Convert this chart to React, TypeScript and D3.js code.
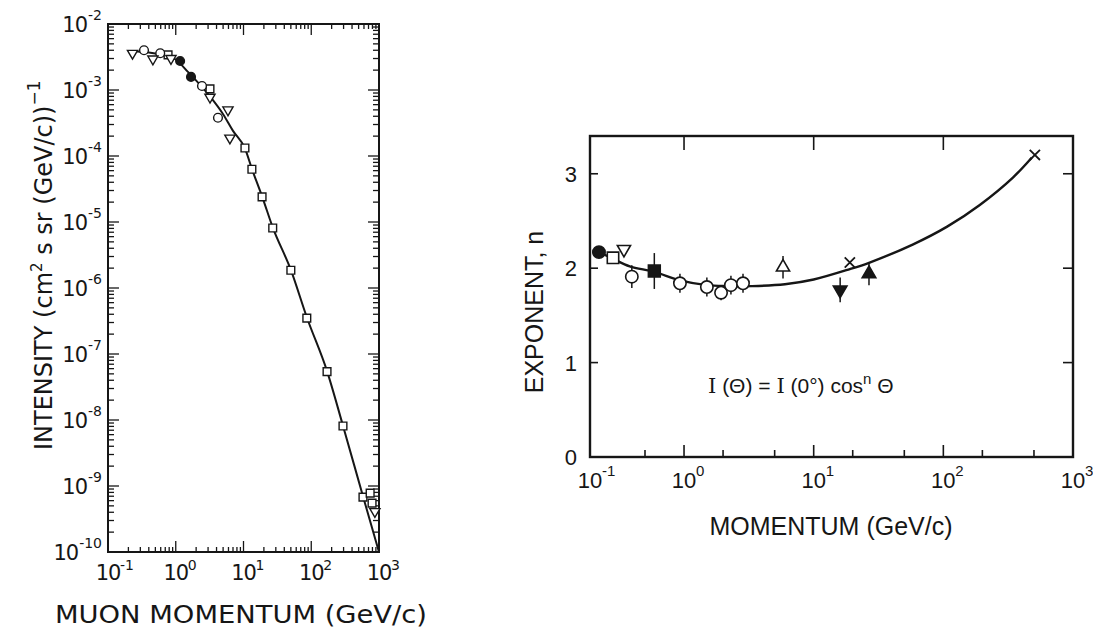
import React, { useEffect, useRef } from 'react';
import * as d3 from 'd3';

const W = 1093;
const H = 633;

// ---- left panel: vertical muon intensity vs momentum ----
const leftXTicks = [0.1, 1, 10, 100, 1000];
const leftXExp = ['-1', '0', '1', '2', '3'];
const leftYTicks = [1e-2, 1e-3, 1e-4, 1e-5, 1e-6, 1e-7, 1e-8, 1e-9, 1e-10];
const leftYExp = ['-2', '-3', '-4', '-5', '-6', '-7', '-8', '-9', '-10'];

// [momentum GeV/c, intensity]
const intOpenDownTri = [[0.23, 3.6e-3], [0.46, 2.95e-3], [0.85, 3.0e-3], [3.2, 7.8e-4], [5.9, 5.0e-4], [6.3, 1.87e-4], [870, 4.1e-10]];
const intOpenCircle = [[0.34, 4.0e-3], [0.59, 3.6e-3], [2.44, 1.15e-3], [4.2, 3.8e-4]];
const intOpenSquare = [[0.77, 3.4e-3], [3.2, 1.04e-3], [10.5, 1.32e-4], [13.3, 6.3e-5], [18.8, 2.4e-5], [27, 8.1e-6], [50, 1.86e-6], [86, 3.5e-7], [171, 5.4e-8], [294, 8.1e-9], [580, 6.8e-10], [740, 7.8e-10], [790, 5.5e-10]];
const intFilledCircle = [[1.16, 2.75e-3], [1.68, 1.58e-3]];
const intCurve = [[0.2, 3.9e-3], [0.4, 3.7e-3], [0.7, 3.3e-3], [1.0, 2.9e-3], [1.5, 1.9e-3], [2.2, 1.25e-3], [3.2, 8.0e-4], [5, 4.3e-4], [7, 2.4e-4], [10.5, 1.3e-4], [13.3, 6.4e-5], [18.8, 2.45e-5], [27, 8.3e-6], [50, 1.88e-6], [86, 3.6e-7], [171, 5.5e-8], [294, 8.2e-9], [580, 7.0e-10], [1000, 1.0e-10]];

// ---- right panel: exponent n of the cos^n zenith distribution ----
const rightXTicks = [0.1, 1, 10, 100, 1000];
const rightXExp = ['-1', '0', '1', '2', '3'];
const rightMinorX = [0.5, 2, 5, 20, 50, 200, 500];
const rightYTicks = [0, 1, 2, 3];

// [momentum, n, error]
const nFilledCircle = [[0.13, 2.17, 0]];
const nOpenSquare = [[0.196, 2.11, 0]];
const nOpenDownTri = [[0.27, 2.2, 0]];
const nOpenCircle = [[0.34, 1.91, 0.12], [0.93, 1.84, 0.1], [1.5, 1.8, 0.1], [1.93, 1.74, 0.08], [2.3, 1.82, 0.1], [2.85, 1.84, 0.1]];
const nFilledSquare = [[0.59, 1.97, 0.19]];
const nOpenUpTri = [[5.8, 2.01, 0.12]];
const nFilledDownTri = [[16, 1.77, 0.13]];
const nFilledUpTri = [[26.7, 1.94, 0.12]];
const nCross = [[19, 2.06, 0], [508, 3.2, 0]];
const nCurve = [[0.13, 2.17], [0.196, 2.1], [0.32, 2.02], [0.59, 1.96], [0.93, 1.87], [1.5, 1.82], [2.14, 1.81], [3.35, 1.81], [6, 1.83], [10, 1.88], [19, 1.99], [27, 2.06], [58, 2.25], [107, 2.44], [191, 2.67], [344, 2.96], [480, 3.17]];

const INK = '#161616';

export default function App() {
  const svgRef = useRef(null);

  useEffect(() => {
    const svg = d3.select(svgRef.current);
    svg.selectAll('*').remove();
    svg.append('rect').attr('width', W).attr('height', H).attr('fill', '#ffffff');

    const drawMarkers = (g, pts, x, y, type, size, filled, rot, sw) => {
      pts.forEach((p) => {
        g.append('path')
          .attr('d', d3.symbol().type(type).size(size)())
          .attr('transform', `translate(${x(p[0])},${y(p[1])}) rotate(${rot})`)
          .attr('fill', filled ? INK : '#fff')
          .attr('stroke', INK)
          .attr('stroke-width', sw);
      });
    };

    // ========== LEFT PANEL ==========
    const lx = d3.scaleLog().domain([0.1, 1000]).range([108, 379]);
    const ly = d3.scaleLog().domain([1e-2, 1e-10]).range([24, 552]);
    const L = svg.append('g').attr('font-family', 'DejaVu Sans, sans-serif').attr('fill', INK);

    // minor/major ticks on all four sides
    const tickG = L.append('g').attr('stroke', INK).attr('stroke-width', 1.3);
    for (let e = -1; e < 3; e++) {
      for (let m = 1; m < 10; m++) {
        const v = m * Math.pow(10, e);
        const len = m === 1 ? 11 : 5;
        const px = lx(v);
        tickG.append('line').attr('x1', px).attr('x2', px).attr('y1', 552).attr('y2', 552 - len);
        tickG.append('line').attr('x1', px).attr('x2', px).attr('y1', 24).attr('y2', 24 + len);
      }
    }
    for (let e = -10; e < -2; e++) {
      for (let m = 1; m < 10; m++) {
        const v = m * Math.pow(10, e);
        const len = m === 1 ? 11 : 6;
        const py = ly(v);
        tickG.append('line').attr('x1', 108).attr('x2', 108 + len).attr('y1', py).attr('y2', py);
        tickG.append('line').attr('x1', 379).attr('x2', 379 - len).attr('y1', py).attr('y2', py);
      }
    }
    L.append('rect').attr('x', 108).attr('y', 24).attr('width', 271).attr('height', 528)
      .attr('fill', 'none').attr('stroke', INK).attr('stroke-width', 2);

    // y tick labels
    leftYTicks.forEach((v, i) => {
      const py = ly(v);
      const sup = L.append('text').attr('x', 102).attr('y', py - 4).attr('text-anchor', 'end')
        .attr('font-size', 14).text(leftYExp[i]);
      const w = sup.node().getComputedTextLength();
      L.append('text').attr('x', 102 - w - 1).attr('y', py + 8).attr('text-anchor', 'end')
        .attr('font-size', 21).attr('letter-spacing', -1).text('10');
    });
    // x tick labels
    leftXTicks.forEach((v, i) => {
      const px = lx(v);
      L.append('text').attr('x', px).attr('y', 580).attr('text-anchor', 'middle')
        .attr('font-size', 21).attr('letter-spacing', -1).text('10');
      L.append('text').attr('x', px + 12).attr('y', 570).attr('font-size', 14).text(leftXExp[i]);
    });

    // curve
    const lineL = d3.line().x((d) => lx(d[0])).y((d) => ly(d[1])).curve(d3.curveMonotoneX);
    L.append('path').datum(intCurve).attr('d', lineL).attr('fill', 'none')
      .attr('stroke', INK).attr('stroke-width', 2);

    const mL = L.append('g');
    drawMarkers(mL, intOpenSquare, lx, ly, d3.symbolSquare, 60, false, 0, 1.4);
    drawMarkers(mL, intOpenCircle, lx, ly, d3.symbolCircle, 60, false, 0, 1.4);
    drawMarkers(mL, intOpenDownTri, lx, ly, d3.symbolTriangle, 45, false, 180, 1.4);
    drawMarkers(mL, intFilledCircle, lx, ly, d3.symbolCircle, 60, true, 0, 1.4);

    // axis titles
    L.append('text').attr('x', 55).attr('y', 623).attr('font-size', 24)
      .attr('textLength', 372).attr('lengthAdjust', 'spacingAndGlyphs')
      .text('MUON MOMENTUM (GeV/c)');
    const yt = L.append('text').attr('transform', 'translate(52,450) rotate(-90)')
      .attr('font-size', 24);
    yt.append('tspan').text('INTENSITY (cm');
    yt.append('tspan').attr('font-size', 15).attr('dy', -10).text('2');
    yt.append('tspan').attr('dy', 10).text(' s sr (GeV/c))');
    yt.append('tspan').attr('font-size', 17).attr('dy', -12).text('−1');

    // ========== RIGHT PANEL ==========
    const rx = d3.scaleLog().domain([0.1, 0.5, 1000]).range([590, 645, 1073]);
    const ry = d3.scaleLinear().domain([0, 3.4]).range([457, 136]);
    const R = svg.append('g').attr('font-family', 'Liberation Sans, Arial, sans-serif').attr('fill', INK);

    const rt = R.append('g').attr('stroke', INK).attr('stroke-width', 1.6);
    rightXTicks.slice(1, 4).forEach((v) => {
      rt.append('line').attr('x1', rx(v)).attr('x2', rx(v)).attr('y1', 457).attr('y2', 445);
      rt.append('line').attr('x1', rx(v)).attr('x2', rx(v)).attr('y1', 136).attr('y2', 150);
    });
    rightMinorX.forEach((v) => {
      rt.append('line').attr('x1', rx(v)).attr('x2', rx(v)).attr('y1', 457).attr('y2', 450);
    });
    rightYTicks.slice(1).forEach((v) => {
      rt.append('line').attr('x1', 590).attr('x2', 598).attr('y1', ry(v)).attr('y2', ry(v));
      rt.append('line').attr('x1', 1073).attr('x2', 1063).attr('y1', ry(v)).attr('y2', ry(v));
    });
    R.append('rect').attr('x', 590).attr('y', 136).attr('width', 483).attr('height', 321)
      .attr('fill', 'none').attr('stroke', INK).attr('stroke-width', 2.4);

    rightYTicks.forEach((v) => {
      R.append('text').attr('x', 577).attr('y', ry(v) + 8).attr('text-anchor', 'end')
        .attr('font-size', 22).text(String(v));
    });
    rightXTicks.forEach((v, i) => {
      const px = rx(v);
      R.append('text').attr('x', px).attr('y', 488).attr('text-anchor', 'middle')
        .attr('font-size', 22).text('10');
      R.append('text').attr('x', px + 12).attr('y', 476).attr('font-size', 15).text(rightXExp[i]);
    });

    const lineR = d3.line().x((d) => rx(d[0])).y((d) => ry(d[1])).curve(d3.curveCatmullRom);
    R.append('path').datum(nCurve).attr('d', lineR).attr('fill', 'none')
      .attr('stroke', INK).attr('stroke-width', 2.4);

    // error bars
    const eg = R.append('g').attr('stroke', INK).attr('stroke-width', 1.5);
    [nOpenCircle, nFilledSquare, nOpenUpTri, nFilledDownTri, nFilledUpTri].forEach((set) => {
      set.forEach((p) => {
        eg.append('line').attr('x1', rx(p[0])).attr('x2', rx(p[0]))
          .attr('y1', ry(p[1] - p[2])).attr('y2', ry(p[1] + p[2]));
      });
    });

    const mR = R.append('g');
    drawMarkers(mR, nOpenCircle, rx, ry, d3.symbolCircle, 120, false, 0, 1.6);
    drawMarkers(mR, nOpenSquare, rx, ry, d3.symbolSquare, 130, false, 0, 1.6);
    drawMarkers(mR, nFilledSquare, rx, ry, d3.symbolSquare, 140, true, 0, 1.6);
    drawMarkers(mR, nFilledCircle, rx, ry, d3.symbolCircle, 120, true, 0, 1.6);
    drawMarkers(mR, nOpenDownTri, rx, ry, d3.symbolTriangle, 75, false, 180, 1.6);
    drawMarkers(mR, nOpenUpTri, rx, ry, d3.symbolTriangle, 75, false, 0, 1.6);
    drawMarkers(mR, nFilledDownTri, rx, ry, d3.symbolTriangle, 80, true, 180, 1.6);
    drawMarkers(mR, nFilledUpTri, rx, ry, d3.symbolTriangle, 80, true, 0, 1.6);
    drawMarkers(mR, nCross, rx, ry, d3.symbolTimes, 70, false, 0, 1.8);

    // equation (serif capital I as in the original typesetting)
    const eq = R.append('text').attr('x', 708).attr('y', 393).attr('font-size', 21);
    eq.append('tspan').attr('font-family', 'DejaVu Serif, serif').text('I');
    eq.append('tspan').text(' (Θ) = ');
    eq.append('tspan').attr('font-family', 'DejaVu Serif, serif').text('I');
    eq.append('tspan').text(' (0°) cos');
    eq.append('tspan').attr('font-size', 15).attr('dy', -9).text('n');
    eq.append('tspan').attr('dy', 9).text(' Θ');

    R.append('text').attr('x', 831).attr('y', 535).attr('text-anchor', 'middle')
      .attr('font-size', 25).text('MOMENTUM (GeV/c)');
    R.append('text').attr('transform', 'translate(543,312) rotate(-90)')
      .attr('text-anchor', 'middle').attr('font-size', 25).text('EXPONENT, n');
  }, []);

  return (
    <div style={{ position: 'absolute', left: 0, top: 0 }}>
      <svg ref={svgRef} width={W} height={H} viewBox={`0 0 ${W} ${H}`} style={{ display: 'block' }} />
    </div>
  );
}
